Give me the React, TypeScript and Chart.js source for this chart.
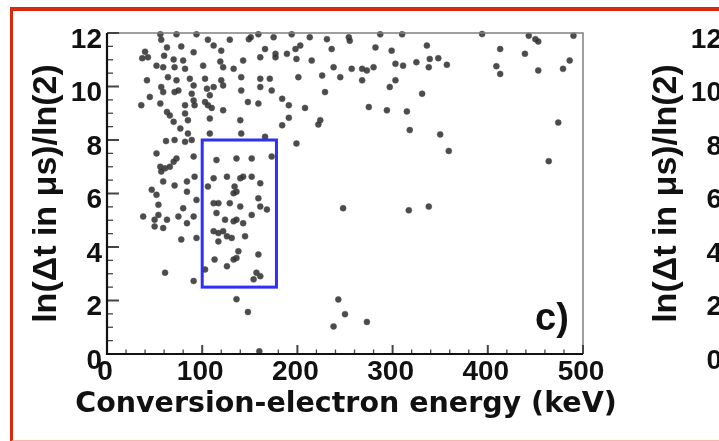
import React, { useEffect, useRef } from "react";
import { Chart, registerables } from "chart.js";

Chart.register(...registerables);

// Conversion-electron energy (keV) of each event
const energies: number[] = [
  56, 73, 94, 149, 159, 57, 78, 106, 112, 129, 151,
  40, 43, 37, 63, 60, 91, 120, 161,
  52, 59, 70, 71, 80, 82, 101, 119, 122, 133, 143, 141, 161,
  42, 64, 73, 87, 103, 120, 91, 105, 112, 122, 141, 161,
  57, 59, 71, 75, 89, 108, 45, 56, 36, 82, 91, 92, 103, 106, 110, 122, 148, 159,
  63, 66, 82, 85, 70, 77, 108, 140,
  85, 108, 141, 62, 71, 82, 89,
  52, 73, 70, 91, 115, 136, 152,
  56, 61, 66, 57, 92, 112, 126, 140, 143, 152, 161,
  59, 71, 84, 106, 134, 136, 47,
  52, 84, 133, 159,
  54, 80, 94, 112, 117, 129, 140, 152, 161,
  38, 50, 54, 63, 75, 84, 91, 115, 124, 133, 136, 143,
  50, 59, 78, 94, 112, 117, 122, 126, 131, 145, 117,
  138, 136, 133, 159, 113, 126,
  61, 103, 91, 157, 161, 154,
  136, 148, 160,
  194, 213, 231, 254, 255, 287, 310, 175,
  166, 177, 177, 189, 198, 203, 199, 215, 236, 282, 299, 336,
  238, 226, 245, 257, 268, 273, 280, 303, 311, 325, 303, 268, 297,
  171, 173, 201, 229, 331,
  184, 191, 208, 275, 294, 315,
  191, 184, 224, 222, 318,
  166, 199, 173,
  394, 443, 450, 453, 490,
  339, 348, 338, 357, 413, 439, 409, 413, 453, 479, 486,
  350, 359, 474, 464,
  168, 248, 317, 338, 243, 250, 238, 273,
];

// ln(Δt in μs)/ln(2) of each event
const lnDt: number[] = [
  11.95, 11.95, 11.95, 11.77, 11.95, 11.75, 11.5, 11.75, 11.53, 11.75, 11.84,
  11.3, 11.09, 11.06, 11.46, 11.15, 11.28, 11.34, 11.09,
  10.78, 10.72, 11.01, 10.72, 10.97, 10.66, 10.78, 10.93, 10.72, 10.66, 10.97, 10.35, 10.29,
  10.23, 10.35, 10.23, 10.29, 10.29, 10.23, 10.04, 9.92, 9.98, 10.04, 9.85, 9.98,
  9.98, 9.79, 9.79, 9.85, 9.73, 9.67, 9.61, 9.36, 9.3, 9.3, 9.48, 9.3, 9.42, 9.3, 9.2, 9.11, 9.42, 9.36,
  9.05, 8.92, 8.99, 8.74, 8.68, 8.43, 8.8, 8.74,
  8.24, 8.24, 8.24, 7.96, 8.0, 7.93, 8.0,
  7.5, 7.31, 7.19, 7.38, 7.25, 7.31, 7.31,
  7.0, 6.94, 7.0, 6.82, 6.63, 6.57, 6.63, 6.57, 6.63, 6.63, 6.38,
  6.45, 6.3, 6.45, 6.26, 6.26, 6.07, 6.14,
  5.95, 6.07, 6.01, 5.82,
  5.58, 5.45, 5.76, 5.64, 5.64, 5.64, 5.51, 5.2, 5.51,
  5.14, 5.02, 5.2, 5.02, 5.14, 4.89, 5.14, 5.27, 5.02, 4.96, 5.02, 4.89,
  4.77, 4.71, 4.28, 4.34, 4.59, 4.52, 4.59, 4.4, 4.34, 4.4, 4.21,
  3.84, 3.59, 3.53, 3.72, 3.53, 3.28,
  3.04, 3.16, 2.73, 3.04, 2.91, 2.79,
  2.05, 1.57, 0.1,
  11.95, 11.84, 11.77, 11.84, 11.71, 11.95, 11.95, 11.84,
  11.4, 11.22, 11.09, 11.22, 11.4, 11.53, 11.03, 10.97, 11.4, 11.46, 11.34, 11.53,
  10.72, 10.41, 10.35, 10.66, 10.66, 10.6, 10.72, 10.85, 10.78, 10.91, 10.23, 10.23, 9.98,
  10.29, 9.85, 10.35, 9.79, 9.73,
  9.54, 9.3, 9.2, 9.23, 9.11, 9.07,
  8.83, 8.55, 8.74, 8.58, 8.37,
  8.12, 7.87, 7.38,
  11.96, 11.9, 11.77, 11.68, 11.9,
  11.03, 11.06, 10.72, 10.81, 11.4, 11.22, 10.76, 10.47, 10.6, 10.66, 10.97,
  8.21, 7.59, 8.65, 7.21,
  5.4, 5.45, 5.37, 5.51, 2.04, 1.49, 1.03, 1.2,
];

const xRange = [0, 500];
const yRange = [0, 12];
const xStep = 100;
const yStep = 2;
const xMinorStep = 20;
const yMinorStep = 0.5;
const boxEnergy = [100, 178];
const boxLn = [2.5, 8];
const neighbourTicks = [0, 2, 4, 6, 8, 10, 12];

const xTitle = "Conversion-electron energy (keV)";
const yTitle = "ln(\u0394t in \u03bcs)/ln(2)";
const panelLabel = "c)";

const FONT = '"Liberation Sans", Arial, Helvetica, sans-serif';
const WIDE_FONT = '"DejaVu Sans", "Liberation Sans", Arial, sans-serif';

const framePlugin = {
  id: "rootFrame",
  afterDatasetsDraw(chart: any) {
    const { ctx, chartArea: a, scales } = chart;
    const x = scales.x;
    const y = scales.y;
    ctx.save();

    // selection box
    const bx0 = x.getPixelForValue(boxEnergy[0]);
    const bx1 = x.getPixelForValue(boxEnergy[1]);
    const by0 = y.getPixelForValue(boxLn[1]);
    const by1 = y.getPixelForValue(boxLn[0]);
    ctx.strokeStyle = "#2f2ff5";
    ctx.lineWidth = 3;
    ctx.strokeRect(bx0, by0, bx1 - bx0, by1 - by0);

    // top/right frame (gray)
    ctx.strokeStyle = "#808080";
    ctx.lineWidth = 1.5;
    ctx.beginPath();
    ctx.moveTo(a.left, a.top);
    ctx.lineTo(a.right, a.top);
    ctx.lineTo(a.right, a.bottom);
    ctx.stroke();

    // inward ticks on y
    ctx.strokeStyle = "#444";
    const nY = Math.round((yRange[1] - yRange[0]) / yMinorStep);
    for (let i = 0; i <= nY; i++) {
      const v = yRange[0] + i * yMinorStep;
      const major = Math.abs(v / yStep - Math.round(v / yStep)) < 1e-6;
      const py = y.getPixelForValue(v);
      ctx.lineWidth = major ? 2 : 1.3;
      ctx.beginPath();
      ctx.moveTo(a.left, py);
      ctx.lineTo(a.left + (major ? 12 : 6), py);
      ctx.stroke();
    }
    // inward ticks on x
    const nX = Math.round((xRange[1] - xRange[0]) / xMinorStep);
    for (let i = 0; i <= nX; i++) {
      const v = xRange[0] + i * xMinorStep;
      const major = Math.abs(v / xStep - Math.round(v / xStep)) < 1e-6;
      const px = x.getPixelForValue(v);
      ctx.lineWidth = major ? 2 : 1.3;
      ctx.beginPath();
      ctx.moveTo(px, a.bottom);
      ctx.lineTo(px, a.bottom - (major ? 9 : 4.5));
      ctx.stroke();
    }

    // left/bottom axes (black)
    ctx.strokeStyle = "#111";
    ctx.lineWidth = 2.2;
    ctx.beginPath();
    ctx.moveTo(a.left, a.top);
    ctx.lineTo(a.left, a.bottom);
    ctx.lineTo(a.right, a.bottom);
    ctx.stroke();

    // x-axis title (wider than the axis itself)
    ctx.fillStyle = "#111";
    ctx.font = `bold 28.5px ${WIDE_FONT}`;
    ctx.textAlign = "center";
    ctx.textBaseline = "alphabetic";
    ctx.fillText(xTitle, (a.left + a.right) / 2 + 1, a.bottom + 58);

    // panel label
    ctx.font = `bold 38px ${FONT}`;
    ctx.textAlign = "left";
    ctx.fillText(panelLabel, a.right - 48, a.bottom - 24);

    // neighbouring panel (cut off at the right edge)
    ctx.font = `bold 28px ${FONT}`;
    ctx.textAlign = "right";
    ctx.textBaseline = "middle";
    neighbourTicks.forEach((v) => {
      ctx.fillText(String(v), a.right + 139, y.getPixelForValue(v) + 7);
    });
    ctx.save();
    ctx.translate(a.left - 60 + 620, (a.top + a.bottom) / 2);
    ctx.rotate(-Math.PI / 2);
    ctx.font = `bold 34px ${FONT}`;
    ctx.textAlign = "center";
    ctx.textBaseline = "middle";
    ctx.fillText(yTitle, 0, 0);
    ctx.restore();

    ctx.restore();
  },
};

export default function App() {
  const ref = useRef<HTMLCanvasElement | null>(null);

  useEffect(() => {
    if (!ref.current) return;
    const chart = new Chart(ref.current, {
      type: "scatter",
      data: {
        datasets: [
          {
            data: energies.map((e, i) => ({ x: e, y: lnDt[i] })),
            backgroundColor: "rgba(45,45,45,0.85)",
            borderColor: "rgba(80,80,80,0.5)",
            borderWidth: 1,
            pointRadius: 3,
            pointHoverRadius: 3,
            clip: false as any,
          },
        ],
      },
      options: {
        responsive: false,
        animation: false,
        devicePixelRatio: 1,
        layout: { padding: { left: 0, top: 33, right: 136, bottom: 0 } },
        plugins: {
          legend: { display: false },
          tooltip: { enabled: false },
        },
        scales: {
          x: {
            type: "linear",
            min: xRange[0],
            max: xRange[1],
            afterFit: (s: any) => {
              s.height = 441 - 354;
            },
            grid: { display: false, drawTicks: false },
            border: { display: false },
            ticks: {
              stepSize: xStep,
              autoSkip: false,
              maxRotation: 0,
              padding: 1,
              labelOffset: -2,
              color: "#111",
              font: { family: FONT, size: 28, weight: "bold" },
            },
            title: { display: false, text: xTitle },
          },
          y: {
            type: "linear",
            min: yRange[0],
            max: yRange[1],
            afterFit: (s: any) => {
              s.width = 107;
            },
            grid: { display: false, drawTicks: false },
            border: { display: false },
            ticks: {
              stepSize: yStep,
              autoSkip: false,
              padding: 5,
              labelOffset: 7,
              color: "#111",
              font: { family: FONT, size: 28, weight: "bold" },
            },
            title: {
              display: true,
              text: yTitle,
              color: "#111",
              font: { family: FONT, size: 34, weight: "bold" },
              padding: { top: 26, bottom: 0 },
            },
          },
        },
      },
      plugins: [framePlugin],
    });
    return () => chart.destroy();
  }, []);

  return (
    <div
      style={{
        position: "fixed",
        left: 0,
        top: 0,
        width: 719,
        height: 441,
        overflow: "hidden",
        background: "#fff",
      }}
    >
      <canvas
        ref={ref}
        width={719}
        height={441}
        style={{ position: "absolute", left: 0, top: 0, display: "block" }}
      />
      <div
        style={{
          position: "absolute",
          left: 10,
          top: 7,
          width: 800,
          height: 429,
          borderLeft: "3px solid #d8290b",
          borderTop: "4px solid #d8290b",
          borderBottom: "2px solid #f5b7a8",
          pointerEvents: "none",
        }}
      />
    </div>
  );
}
